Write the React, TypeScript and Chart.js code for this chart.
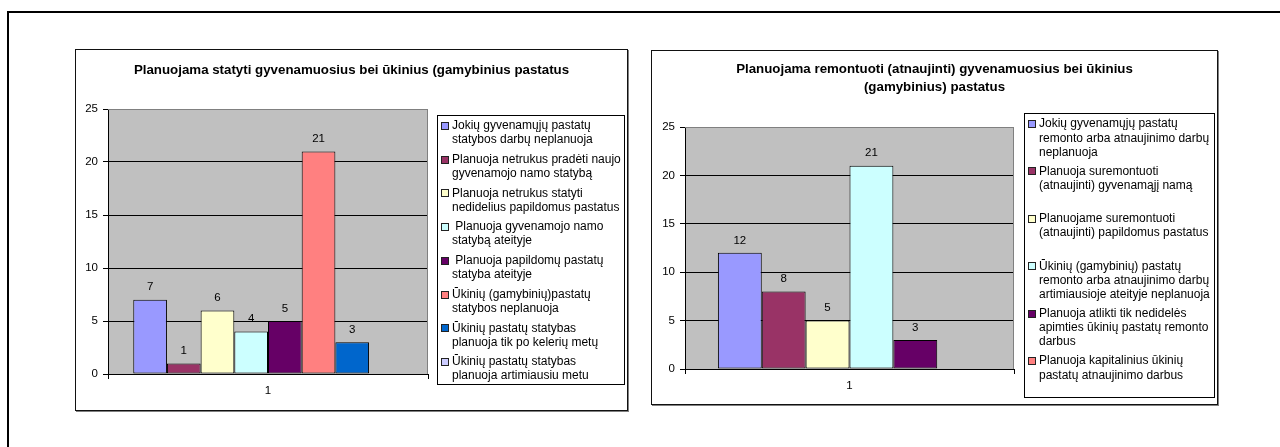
import React, { useEffect, useRef } from "react";
import { Chart, registerables } from "chart.js";

Chart.register(...registerables);

const FONT = "'Liberation Sans', Arial, Helvetica, sans-serif";

// ---------- data ----------
const categories = ["1"];
const yMin = 0;
const yMax = 25;
const yStep = 5;

const chart1Title = ["Planuojama statyti gyvenamuosius bei ūkinius (gamybinius pastatus"];
const chart1Legend = [
  ["Jokių gyvenamųjų pastatų", "statybos darbų neplanuoja"],
  ["Planuoja netrukus pradėti naujo", "gyvenamojo namo statybą"],
  ["Planuoja netrukus statyti", "nedidelius papildomus pastatus"],
  [" Planuoja gyvenamojo namo", "statybą ateityje"],
  [" Planuoja papildomų pastatų", "statyba ateityje"],
  ["Ūkinių (gamybinių)pastatų", "statybos neplanuoja"],
  ["Ūkinių pastatų statybas", "planuoja tik po kelerių metų"],
  ["Ūkinių pastatų statybas", "planuoja artimiausiu metu"],
];
const chart1Values: (number | null)[] = [7, 1, 6, 4, 5, 21, 3, null];
const chart1Colors = ["#9999FF", "#993366", "#FFFFCC", "#CCFFFF", "#660066", "#FF8080", "#0066CC", "#CCCCFF"];

const chart2Title = ["Planuojama remontuoti (atnaujinti) gyvenamuosius bei ūkinius", "(gamybinius) pastatus"];
const chart2Legend = [
  ["Jokių gyvenamųjų pastatų", "remonto arba atnaujinimo darbų", "neplanuoja"],
  ["Planuoja suremontuoti", "(atnaujinti) gyvenamąjį namą"],
  ["Planuojame suremontuoti", "(atnaujinti) papildomus pastatus"],
  ["Ūkinių (gamybinių) pastatų", "remonto arba atnaujinimo darbų", "artimiausioje ateityje neplanuoja"],
  ["Planuoja atlikti tik nedidelės", "apimties ūkinių pastatų remonto", "darbus"],
  ["Planuoja kapitalinius ūkinių", "pastatų atnaujinimo darbus"],
];
const chart2Values: (number | null)[] = [12, 8, 5, 21, 3, null];
const chart2Colors = ["#9999FF", "#993366", "#FFFFCC", "#CCFFFF", "#660066", "#FF8080"];

// ---------- layout ----------
type Layout = {
  boxLeft: number;
  boxTop: number;
  w: number;
  h: number;
  plot: { left: number; top: number; right: number; bottom: number };
  titleY: number[];
  legend: { x: number; y: number; w: number; h: number; swatchX: number; textX: number; firstY: number; step: number; lineH: number };
};

const layout1: Layout = {
  boxLeft: 75,
  boxTop: 49,
  w: 551,
  h: 360,
  plot: { left: 32, top: 59, right: 352, bottom: 324 },
  titleY: [20],
  legend: { x: 361.5, y: 65.5, w: 187, h: 269, swatchX: 366, textX: 376, firstY: 76, step: 33.7, lineH: 14 },
};

const layout2: Layout = {
  boxLeft: 651,
  boxTop: 50,
  w: 565,
  h: 353,
  plot: { left: 33, top: 76, right: 362, bottom: 318 },
  titleY: [18, 36],
  legend: { x: 372.5, y: 62.5, w: 190, h: 284, swatchX: 377, textX: 387, firstY: 73, step: 47.4, lineH: 14.2 },
};

function makeChart(canvas: HTMLCanvasElement, title: string[], legend: string[][], values: (number | null)[], colors: string[], L: Layout) {
  const n = values.length;
  const decor = {
    id: "decor",
    beforeDraw(chart: any) {
      const { ctx, chartArea: a } = chart;
      ctx.save();
      ctx.fillStyle = "#ffffff";
      ctx.fillRect(0, 0, chart.width, chart.height);
      ctx.fillStyle = "#C0C0C0";
      ctx.fillRect(a.left, a.top, a.right - a.left, a.bottom - a.top);
      ctx.restore();
    },
    beforeDatasetsDraw(chart: any) {
      const { ctx, chartArea: a } = chart;
      ctx.save();
      ctx.strokeStyle = "#808080";
      ctx.lineWidth = 1;
      ctx.beginPath();
      ctx.moveTo(Math.round(a.left), Math.round(a.top) + 0.5);
      ctx.lineTo(Math.round(a.right) - 0.5, Math.round(a.top) + 0.5);
      ctx.lineTo(Math.round(a.right) - 0.5, Math.round(a.bottom));
      ctx.stroke();
      ctx.restore();
    },
    afterDraw(chart: any) {
      const { ctx } = chart;
      ctx.save();
      // data labels
      ctx.fillStyle = "#000";
      ctx.font = `11.5px ${FONT}`;
      ctx.textAlign = "center";
      ctx.textBaseline = "middle";
      chart.data.datasets.forEach((ds: any, i: number) => {
        const meta = chart.getDatasetMeta(i);
        meta.data.forEach((el: any, j: number) => {
          const v = ds.data[j];
          if (v === null || v === undefined) return;
          ctx.fillText(String(v), el.x, el.y - 12.5);
        });
      });
      // title
      ctx.font = `bold 13.3px ${FONT}`;
      title.forEach((line, k) => ctx.fillText(line, chart.width / 2, L.titleY[k]));
      // legend
      const lg = L.legend;
      ctx.strokeStyle = "#000";
      ctx.lineWidth = 1;
      ctx.strokeRect(lg.x, lg.y, lg.w, lg.h);
      ctx.font = `12px ${FONT}`;
      ctx.textAlign = "left";
      legend.forEach((lines, i) => {
        const cy = lg.firstY + i * lg.step;
        ctx.fillStyle = colors[i];
        ctx.fillRect(lg.swatchX, Math.round(cy) - 3, 6, 6);
        ctx.strokeStyle = "#222";
        ctx.strokeRect(lg.swatchX - 0.5, Math.round(cy) - 3.5, 7, 7);
        ctx.fillStyle = "#000";
        lines.forEach((t, j) => ctx.fillText(t, lg.textX, cy + j * lg.lineH));
      });
      ctx.restore();
    },
  };

  return new Chart(canvas, {
    type: "bar",
    data: {
      labels: categories,
      datasets: values.map((v, i) => ({
        label: legend[i].join(" ").trim(),
        data: [v],
        backgroundColor: colors[i],
        borderColor: "#000",
        borderWidth: 1,
        borderSkipped: false,
        categoryPercentage: n / (n + 1.5),
        barPercentage: 1,
      })),
    },
    options: {
      responsive: false,
      animation: false,
      devicePixelRatio: 1,
      layout: { padding: { left: 0, top: L.plot.top, right: L.w - L.plot.right, bottom: 0 } },
      plugins: { legend: { display: false }, title: { display: false }, tooltip: { enabled: false } },
      scales: {
        x: {
          grid: { display: true, drawOnChartArea: false, drawTicks: true, tickLength: 5, color: "#000", offset: true },
          border: { color: "#000" },
          ticks: { color: "#000", padding: 5, font: { family: FONT, size: 11.5 } },
          afterFit: (s: any) => {
            s.height = L.h - L.plot.bottom;
          },
        },
        y: {
          min: yMin,
          max: yMax,
          ticks: { stepSize: yStep, color: "#000", padding: 5, font: { family: FONT, size: 11.5 } },
          grid: {
            color: (c: any) => (c.tick && c.tick.value === yMax ? "#808080" : "#000"),
            tickColor: "#000",
            tickLength: 5,
          },
          border: { color: "#000" },
          afterFit: (s: any) => {
            s.width = L.plot.left;
          },
        },
      },
    },
    plugins: [decor],
  });
}

function ChartBox({ title, legend, values, colors, L }: { title: string[]; legend: string[][]; values: (number | null)[]; colors: string[]; L: Layout }) {
  const ref = useRef<HTMLCanvasElement | null>(null);
  useEffect(() => {
    if (!ref.current) return;
    const c = makeChart(ref.current, title, legend, values, colors, L);
    return () => c.destroy();
  }, []);
  return (
    <div
      style={{
        position: "absolute",
        left: L.boxLeft,
        top: L.boxTop,
        width: L.w,
        height: L.h,
        border: "1px solid #111",
        boxShadow: "1px 1px 0 #808080",
        background: "#fff",
      }}
    >
      <canvas ref={ref} width={L.w} height={L.h} style={{ display: "block", width: L.w, height: L.h }} />
    </div>
  );
}

export default function App() {
  return (
    <div style={{ position: "fixed", left: 0, top: 0, width: 1280, height: 447, overflow: "hidden", background: "#fff" }}>
      <div style={{ position: "absolute", left: 7, top: 11, width: 1400, height: 600, border: "2px solid #000" }} />
      <ChartBox title={chart1Title} legend={chart1Legend} values={chart1Values} colors={chart1Colors} L={layout1} />
      <ChartBox title={chart2Title} legend={chart2Legend} values={chart2Values} colors={chart2Colors} L={layout2} />
    </div>
  );
}
